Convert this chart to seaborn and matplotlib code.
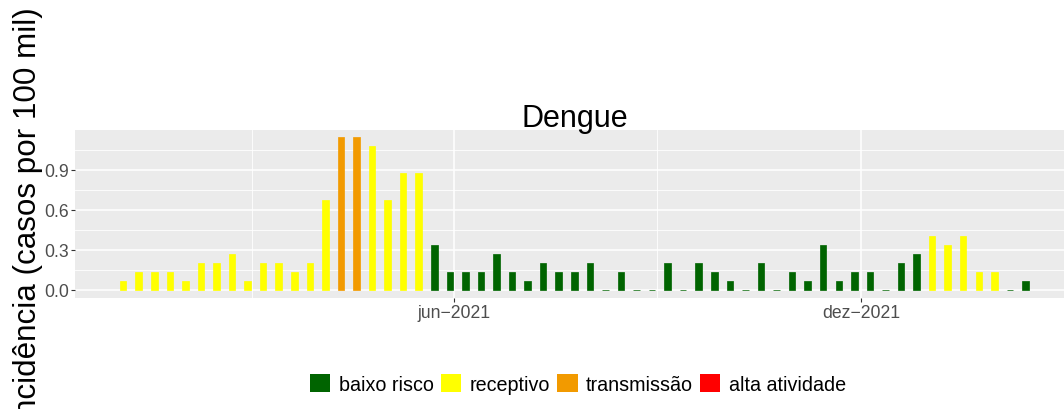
import matplotlib
matplotlib.use("Agg")
import matplotlib.pyplot as plt
import matplotlib.dates as mdates
from matplotlib.patches import Patch
import pandas as pd
import seaborn as sns

# ---- data -------------------------------------------------------------
week_start = "2021-01-03"
n_weeks = 59
incidence = [0.068, 0.135, 0.135, 0.135, 0.068, 0.203, 0.203, 0.270, 0.068, 0.203,
             0.203, 0.135, 0.203, 0.676, 1.149, 1.149, 1.081, 0.676, 0.878, 0.878,
             0.338, 0.135, 0.135, 0.135, 0.270, 0.135, 0.068, 0.203, 0.135, 0.135,
             0.203, 0.000, 0.135, 0.000, 0.000, 0.203, 0.000, 0.203, 0.135, 0.068,
             0.000, 0.203, 0.000, 0.135, 0.068, 0.338, 0.068, 0.135, 0.135, 0.000,
             0.203, 0.270, 0.405, 0.338, 0.405, 0.135, 0.135, 0.000, 0.068]
levels = ["baixo risco", "receptivo", "transmissão", "alta atividade"]
level_runs = [("receptivo", 14), ("transmissão", 2), ("receptivo", 4),
              ("baixo risco", 32), ("receptivo", 5), ("baixo risco", 2)]
colors = ["#006400", "#FFFF00", "#F29A00", "#FF0000"]
y_ticks = [0.0, 0.3, 0.6, 0.9]
y_tick_labels = ["0.0", "0.3", "0.6", "0.9"]
x_ticks = ["2021-06-01", "2021-12-01"]
x_tick_labels = ["jun\u22122021", "dez\u22122021"]
x_minor = ["2021-03-02", "2021-08-31"]
title = "Dengue"
ylabel = "incidência (casos por 100 mil)"

# ---- frame ------------------------------------------------------------
weeks = pd.date_range(week_start, periods=n_weeks, freq="7D")
nivel = [lvl for lvl, n in level_runs for _ in range(n)]
df = pd.DataFrame({"x": mdates.date2num(weeks), "inc": incidence, "nivel": nivel})
palette = dict(zip(levels, colors))

W, H = 1064, 410
fig = plt.figure(figsize=(W / 100, H / 100), dpi=100)
plt.rcParams["font.family"] = ["Liberation Sans", "DejaVu Sans"]

L, R, T, B = 75, 1064, 131, 299
ax = fig.add_axes([L / W, 1 - B / H, (R - L) / W, (B - T) / H])
ax.set_facecolor("#EBEBEB")

sns.barplot(data=df, x="x", y="inc", hue="nivel", hue_order=levels,
            palette=palette, native_scale=True, dodge=False, width=0.42,
            errorbar=None, legend=False, saturation=1, ax=ax)
for p in ax.patches:
    p.set_edgecolor(p.get_facecolor())
    p.set_linewidth(0.5)

jun = mdates.date2num(pd.Timestamp(x_ticks[0]))
px_per_day = (861 - 454.3) / 183.0
ax.set_xlim(jun - (454.3 - L) / px_per_day, jun + (R - 454.3) / px_per_day)
ax.set_ylim(-(B - 290.7) / 133.3, (290.7 - T) / 133.3)

ax.set_xticks(mdates.date2num(pd.to_datetime(x_ticks)))
ax.set_xticklabels(x_tick_labels)
ax.set_xticks(mdates.date2num(pd.to_datetime(x_minor)), minor=True)
ax.set_yticks(y_ticks)
ax.set_yticklabels(y_tick_labels)
ax.set_yticks([0.15, 0.45, 0.75, 1.05], minor=True)

ax.grid(which="major", color="white", linewidth=1.1)
ax.grid(which="minor", color="white", linewidth=0.6)
ax.set_axisbelow(True)
for s in ax.spines.values():
    s.set_visible(False)
ax.tick_params(which="major", length=2.6, width=0.8, color="#333333",
               labelsize=12.7, labelcolor="#4D4D4D", pad=1.5)
ax.tick_params(which="minor", length=0)
ax.set_xlabel("")
ax.set_ylabel("")

fig.text(575 / W, 1 - 127 / H, title, ha="center", va="baseline", fontsize=22)
fig.text(28 / W, 1 - 7 / H, ylabel, rotation=90, ha="center", va="top", fontsize=22.6)

handles = [Patch(facecolor=c, edgecolor="none", label=l) for l, c in zip(levels, colors)]
fig.legend(handles=handles, loc="center", bbox_to_anchor=(578 / W, 1 - 384.8 / H),
           ncol=4, frameon=False, fontsize=14.2, handlelength=1.02, handleheight=1.02,
           handletextpad=0.41, columnspacing=0.39, borderpad=0, borderaxespad=0)

fig.savefig("out.png", dpi=100)
